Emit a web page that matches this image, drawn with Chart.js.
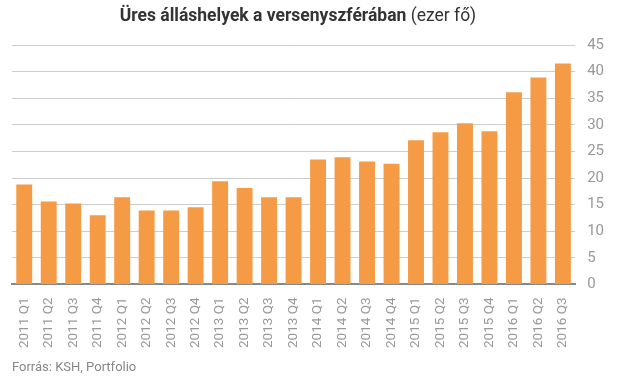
<!DOCTYPE html>
<html><head><meta charset="utf-8">
<script src="https://cdn.jsdelivr.net/npm/chart.js@4/dist/chart.umd.min.js"></script>
<style>
html,body{margin:0;padding:0;background:#fff;}
#wrap{position:relative;width:624px;height:378px;}
#title{position:absolute;top:5px;left:12px;width:572px;text-align:center;font-family:Roboto,sans-serif;font-size:17.5px;color:#333;white-space:nowrap;}
#title b{font-weight:700;}
#src{position:absolute;left:12px;top:359px;font-family:Roboto,sans-serif;font-size:13px;color:#888;}
canvas{position:absolute;left:0;top:0;}
</style></head><body>
<div id="wrap">
<canvas id="c" width="624" height="378"></canvas>
<div id="title"><b>Üres álláshelyek a versenyszférában</b> (ezer fő)</div>
<div id="src">Forrás: KSH, Portfolio</div>
</div>
<script>
const categories = ["2011 Q1","2011 Q2","2011 Q3","2011 Q4","2012 Q1","2012 Q2","2012 Q3","2012 Q4","2013 Q1","2013 Q2","2013 Q3","2013 Q4","2014 Q1","2014 Q2","2014 Q3","2014 Q4","2015 Q1","2015 Q2","2015 Q3","2015 Q4","2016 Q1","2016 Q2","2016 Q3"];
const values = [18.8,15.6,15.2,13.0,16.4,13.9,13.9,14.5,19.4,18.1,16.4,16.4,23.5,23.9,23.1,22.7,27.1,28.6,30.3,28.8,36.1,38.9,41.5];
const yTicks = [0,5,10,15,20,25,30,35,40,45];

new Chart(document.getElementById('c'), {
  type: 'bar',
  data: { labels: categories, datasets: [{ data: values, backgroundColor: '#f59b45', categoryPercentage: 1, barPercentage: 0.65 }] },
  options: {
    responsive: false, animation: false,
    layout: { padding: { left: 12, right: 8, top: 45, bottom: 25 } },
    plugins: { legend: { display: false }, tooltip: { enabled: false } },
    scales: {
      x: {
        grid: { display: false },
        border: { color: '#888', width: 2 },
        ticks: { color: '#999', font: { family: 'Roboto', size: 13.5 }, minRotation: 90, maxRotation: 90, autoSkip: false, padding: 5 }
      },
      y: {
        position: 'right', min: 0, max: 45,
        afterBuildTicks: (s) => { s.ticks = yTicks.map(v => ({ value: v })); },
        grid: { color: '#cccccc', lineWidth: 1, drawTicks: false },
        border: { display: false },
        ticks: { color: '#999', font: { family: 'Roboto', size: 15 }, padding: 12 }
      }
    }
  }
});
</script>
</body></html>
